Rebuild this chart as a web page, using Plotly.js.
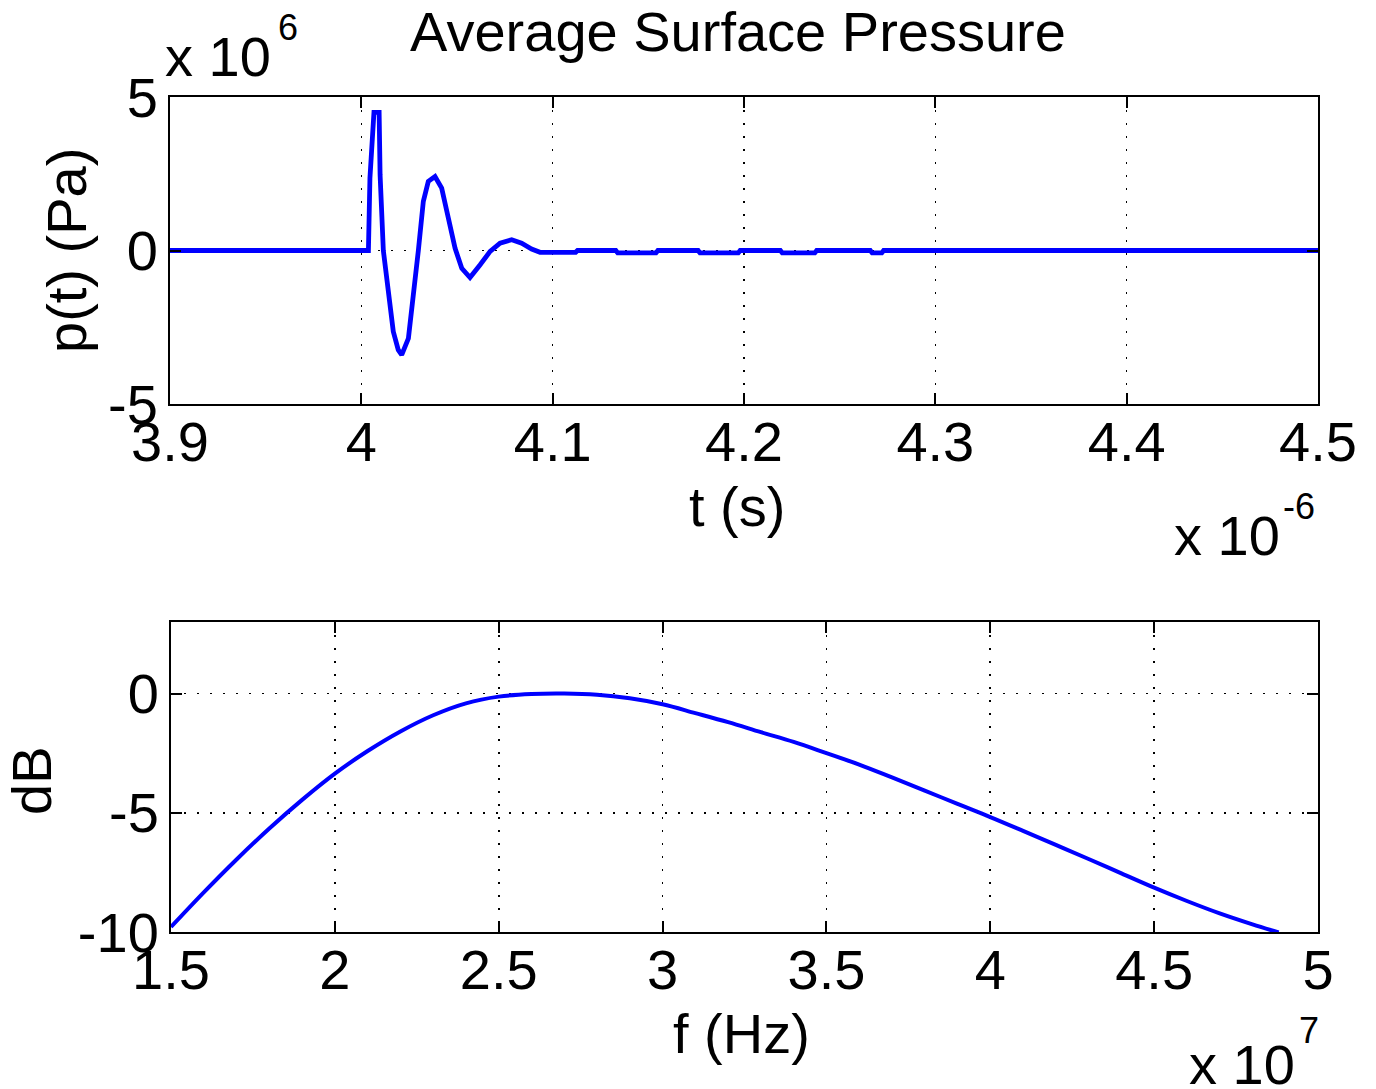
<!DOCTYPE html>
<html>
<head>
<meta charset="utf-8">
<script src="https://cdn.plot.ly/plotly-3.0.1.min.js"></script>
<style>html,body{margin:0;padding:0;background:#fff;}#chart{width:1376px;height:1089px;}</style>
</head>
<body>
<div id="chart"></div>
<script>
// ---- Top panel: time signal (t in units of 1e-6 s, p in units of 1e6 Pa)
const timeUs = [3.9, 4.0037, 4.0045, 4.0056, 4.0066, 4.0093, 4.0098, 4.0115, 4.0141, 4.0167, 4.0193, 4.0211, 4.0246, 4.0272, 4.0298, 4.0324, 4.035, 4.0385, 4.042, 4.0455, 4.049, 4.0525, 4.0568, 4.062, 4.0673, 4.0725, 4.0786, 4.0838, 4.089, 4.0934, 4.112, 4.113, 4.133, 4.134, 4.154, 4.155, 4.176, 4.177, 4.197, 4.198, 4.219, 4.220, 4.237, 4.238, 4.266, 4.267, 4.272, 4.273, 4.5];
const pressureMPa = [0, 0, 2.36, 3.9, 4.5, 4.5, 2.47, 0, -1.34, -2.64, -3.24, -3.40, -2.86, -1.55, 0, 1.6, 2.25, 2.41, 2.03, 1.05, 0.07, -0.58, -0.88, -0.47, -0.03, 0.24, 0.35, 0.24, 0.05, -0.06, -0.06, 0, 0, -0.08, -0.08, 0, 0, -0.08, -0.08, 0, 0, -0.08, -0.08, 0, 0, -0.08, -0.08, 0, 0];

// ---- Bottom panel: spectrum (f in units of 1e7 Hz)
const freq1e7 = [1.5, 1.6, 1.7, 1.8, 1.9, 2.0, 2.1, 2.2, 2.3, 2.4, 2.5, 2.6, 2.7, 2.8, 2.9, 3.0, 3.1, 3.2, 3.3, 3.4, 3.5, 3.6, 3.7, 3.8, 3.9, 4.0, 4.1, 4.2, 4.3, 4.4, 4.5, 4.6, 4.7, 4.8, 4.88];
const levelDB = [-9.79, -8.34, -6.96, -5.66, -4.46, -3.36, -2.41, -1.59, -0.91, -0.41, -0.13, -0.02, 0.0, -0.05, -0.2, -0.45, -0.82, -1.2, -1.62, -2.03, -2.5, -2.98, -3.52, -4.07, -4.63, -5.18, -5.76, -6.35, -6.94, -7.54, -8.14, -8.7, -9.22, -9.68, -10.02];

// ---- Tick labels
const topXTickVals = [3.9, 4.0, 4.1, 4.2, 4.3, 4.4, 4.5];
const topXTickText = ["3.9", "4", "4.1", "4.2", "4.3", "4.4", "4.5"];
const topYTickVals = [-5, 0, 5];
const topYTickText = ["-5", "0", "5"];
const botXTickVals = [1.5, 2, 2.5, 3, 3.5, 4, 4.5, 5];
const botXTickText = ["1.5", "2", "2.5", "3", "3.5", "4", "4.5", "5"];
const botYTickVals = [-10, -5, 0];
const botYTickText = ["-10", "-5", "0"];

const W = 1376, H = 1089;
const FONT = "Liberation Sans, Arial, Helvetica, sans-serif";
const FS = 56, SUP = 36;
const px = x => x / W;
const py = y => 1 - y / H;

const axisCommon = {
  showline: true, linecolor: "#000", linewidth: 2, mirror: "ticks",
  ticks: "inside", ticklen: 11, tickwidth: 2, tickcolor: "#000",
  showgrid: true, gridcolor: "#000", gridwidth: 1.6, griddash: "2px,11px",
  zeroline: false, automargin: false, fixedrange: true,
  tickfont: {family: FONT, size: FS, color: "#000"},
  tickmode: "array"
};

const traces = [
  {x: timeUs, y: pressureMPa, xaxis: "x", yaxis: "y", type: "scatter", mode: "lines",
   line: {color: "#0000ff", width: 4.8}, hoverinfo: "skip"},
  {x: freq1e7, y: levelDB, xaxis: "x2", yaxis: "y2", type: "scatter", mode: "lines",
   line: {color: "#0000ff", width: 4, shape: "spline"}, hoverinfo: "skip"}
];

function txt(text, x, y, xanchor, yanchor, size, angle) {
  const a = {text: text, xref: "paper", yref: "paper", x: px(x), y: py(y), xanchor: xanchor, yanchor: yanchor,
             showarrow: false, font: {family: FONT, size: size, color: "#000"}};
  if (angle) a.textangle = angle;
  return a;
}

const layout = {
  width: W, height: H,
  margin: {l: 0, r: 0, t: 0, b: 0},
  paper_bgcolor: "#fff", plot_bgcolor: "#fff",
  showlegend: false,
  font: {family: FONT, color: "#000"},
  title: {text: "Average Surface Pressure", font: {family: FONT, size: FS, color: "#000"},
          x: px(738), xanchor: "center", y: py(31), yanchor: "middle"},
  xaxis: Object.assign({}, axisCommon, {domain: [px(170), px(1318)], range: [3.9, 4.5],
          tickvals: topXTickVals, ticktext: topXTickText, anchor: "y", ticklabelstandoff: -12}),
  yaxis: Object.assign({}, axisCommon, {domain: [py(404), py(97)], range: [-5, 5],
          tickvals: topYTickVals, ticktext: topYTickText, anchor: "x", ticklabelstandoff: -1}),
  xaxis2: Object.assign({}, axisCommon, {domain: [px(171), px(1318)], range: [1.5, 5],
          tickvals: botXTickVals, ticktext: botXTickText, anchor: "y2", ticklabelstandoff: -12}),
  yaxis2: Object.assign({}, axisCommon, {domain: [py(932), py(622)], range: [-10, 3],
          tickvals: botYTickVals, ticktext: botYTickText, anchor: "x2", ticklabelstandoff: -1}),
  annotations: [
    txt("t (s)", 737, 506, "center", "middle", FS),
    txt("f (Hz)", 741, 1033, "center", "middle", FS),
    txt("p(t) (Pa)", 67, 251, "center", "middle", FS, -90),
    txt("dB", 31, 780, "center", "middle", FS, -90),
    txt("x 10", 163, 57, "left", "middle", FS),
    txt("6", 276, 28, "left", "middle", SUP),
    txt("x 10", 1282, 535, "right", "middle", FS),
    txt("-6", 1281, 507, "left", "middle", SUP),
    txt("x 10", 1297, 1064, "right", "middle", FS),
    txt("7", 1297, 1030, "left", "middle", SUP)
  ]
};

Plotly.newPlot("chart", traces, layout, {staticPlot: true, displayModeBar: false});
</script>
</body>
</html>
